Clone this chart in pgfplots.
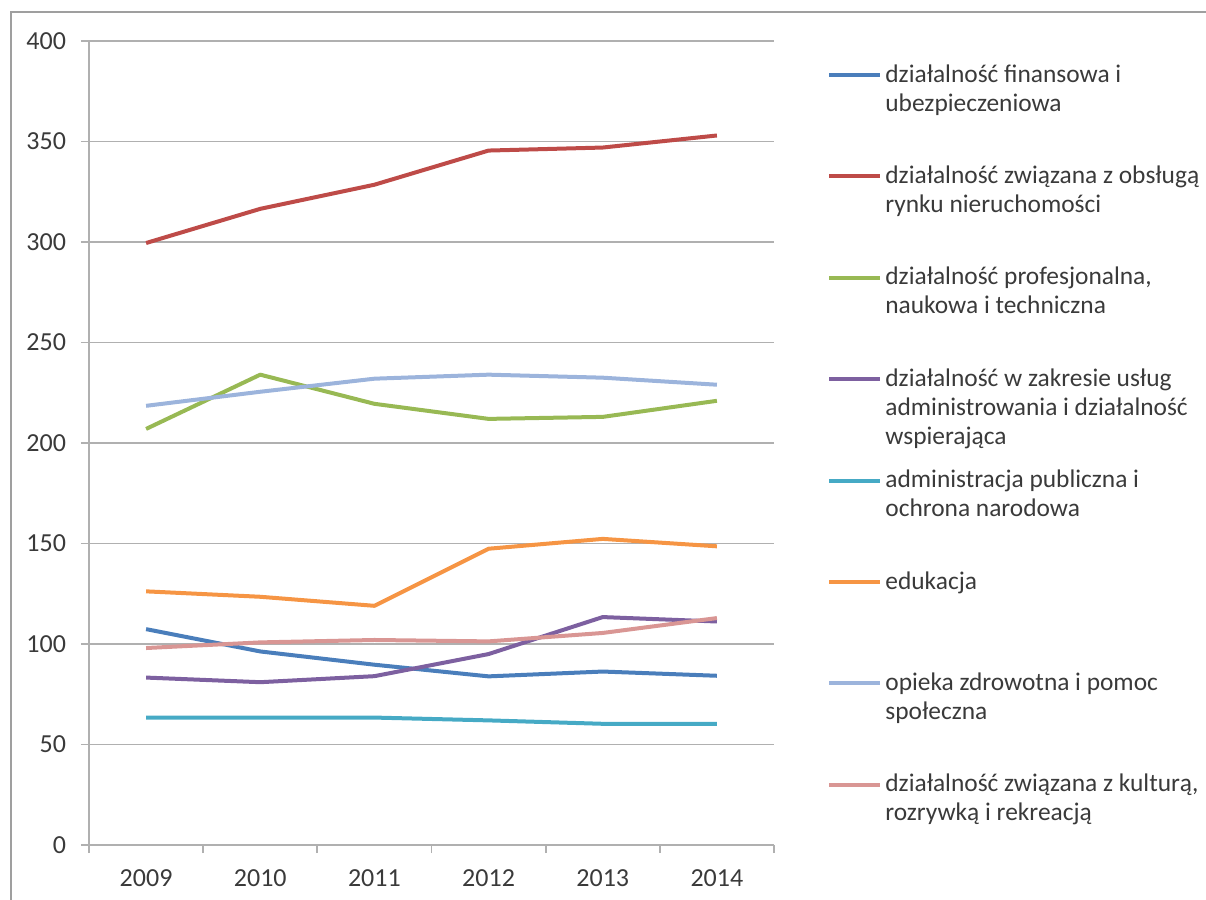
\documentclass[border=0pt]{standalone}
\usepackage{pgfplots}
\pgfplotsset{compat=1.18}
\usepackage{fontspec}
\setmainfont{Carlito}
\definecolor{c1}{HTML}{4A7EBB}
\definecolor{c2}{HTML}{BE4B48}
\definecolor{c3}{HTML}{98B954}
\definecolor{c4}{HTML}{7D60A0}
\definecolor{c5}{HTML}{46AAC5}
\definecolor{c6}{HTML}{F69544}
\definecolor{c7}{HTML}{9CB4DC}
\definecolor{c8}{HTML}{D99694}
\definecolor{txt}{HTML}{3A3A3A}
\definecolor{gridc}{HTML}{B0B0B0}
\newcommand\lgf{\fontsize{12.7}{14}\selectfont}
\begin{document}
\begin{tikzpicture}[x=1pt,y=1pt]
\path[use as bounding box] (0,0) rectangle (603,-450);
\draw[gray!75, line width=1pt] (5.5,-452) -- (5.5,-6) -- (605,-6);
\begin{axis}[
  at={(44.5pt,-422.5pt)}, anchor=south west,
  scale only axis, width=342.5pt, height=402pt,
  xmin=0.5, xmax=6.5, ymin=0, ymax=400,
  axis x line*=bottom, axis y line*=left,
  axis line style={gridc, line width=0.9pt, -},
  ytick={0,50,...,400},
  ymajorgrids, grid style={gridc, line width=0.9pt},
  xtick={1,...,6}, xticklabels={2009,2010,2011,2012,2013,2014},
  major x tick style={draw=none},
  minor xtick={0.5,1.5,...,6.5},
  tick style={gridc, line width=0.9pt},
  tick align=outside, major tick length=4pt, minor tick length=4pt,
  tick label style={font=\fontsize{13}{15}\selectfont, text=txt},
  /pgf/number format/assume math mode=true,
  yticklabel style={anchor=east, xshift=-4pt},
  xticklabel style={yshift=-5pt},
  every axis plot/.append style={line width=2pt, line join=round, mark=none},
]
\addplot[c1] coordinates {(1,107.4) (2,96.3) (3,89.7) (4,83.9) (5,86.3) (6,84.2)};
\addplot[c2] coordinates {(1,299.5) (2,316.5) (3,328.5) (4,345.5) (5,347) (6,353)};
\addplot[c3] coordinates {(1,207) (2,234) (3,219.5) (4,212) (5,213) (6,221)};
\addplot[c4] coordinates {(1,83.3) (2,81) (3,84) (4,95) (5,113.4) (6,111.2)};
\addplot[c5] coordinates {(1,63.4) (2,63.4) (3,63.4) (4,62) (5,60.3) (6,60.3)};
\addplot[c6] coordinates {(1,126.2) (2,123.5) (3,119) (4,147.4) (5,152.3) (6,148.6)};
\addplot[c7] coordinates {(1,218.5) (2,225.5) (3,232) (4,234) (5,232.5) (6,229)};
\addplot[c8] coordinates {(1,98) (2,100.8) (3,102) (4,101.3) (5,105.5) (6,112.9)};
\end{axis}
% legend
\begin{scope}[every node/.style={anchor=base west, inner sep=0pt, text=txt, font=\lgf}]
\draw[c1, line width=2pt] (414.5,-37.5) -- (440,-37.5);
\node at (442.5,-41) {działalność finansowa i};
\node at (442.5,-55.5) {ubezpieczeniowa};
\draw[c2, line width=2pt] (414.5,-88.2) -- (440,-88.2);
\node at (442.5,-91.7) {działalność związana z obsługą};
\node at (442.5,-106.2) {rynku nieruchomości};
\draw[c3, line width=2pt] (414.5,-138.9) -- (440,-138.9);
\node at (442.5,-142.4) {działalność profesjonalna,};
\node at (442.5,-156.9) {naukowa i techniczna};
\draw[c4, line width=2pt] (414.5,-189.6) -- (440,-189.6);
\node at (442.5,-193.1) {działalność w zakresie usług};
\node at (442.5,-207.6) {administrowania i działalność};
\node at (442.5,-222.1) {wspierająca};
\draw[c5, line width=2pt] (414.5,-240.3) -- (440,-240.3);
\node at (442.5,-243.8) {administracja publiczna i};
\node at (442.5,-258.3) {ochrona narodowa};
\draw[c6, line width=2pt] (414.5,-291) -- (440,-291);
\node at (442.5,-294.5) {edukacja};
\draw[c7, line width=2pt] (414.5,-341.7) -- (440,-341.7);
\node at (442.5,-345.2) {opieka zdrowotna i pomoc};
\node at (442.5,-359.7) {społeczna};
\draw[c8, line width=2pt] (414.5,-392.4) -- (440,-392.4);
\node at (442.5,-395.9) {działalność związana z kulturą,};
\node at (442.5,-410.4) {rozrywką i rekreacją};
\end{scope}
\end{tikzpicture}
\end{document}
